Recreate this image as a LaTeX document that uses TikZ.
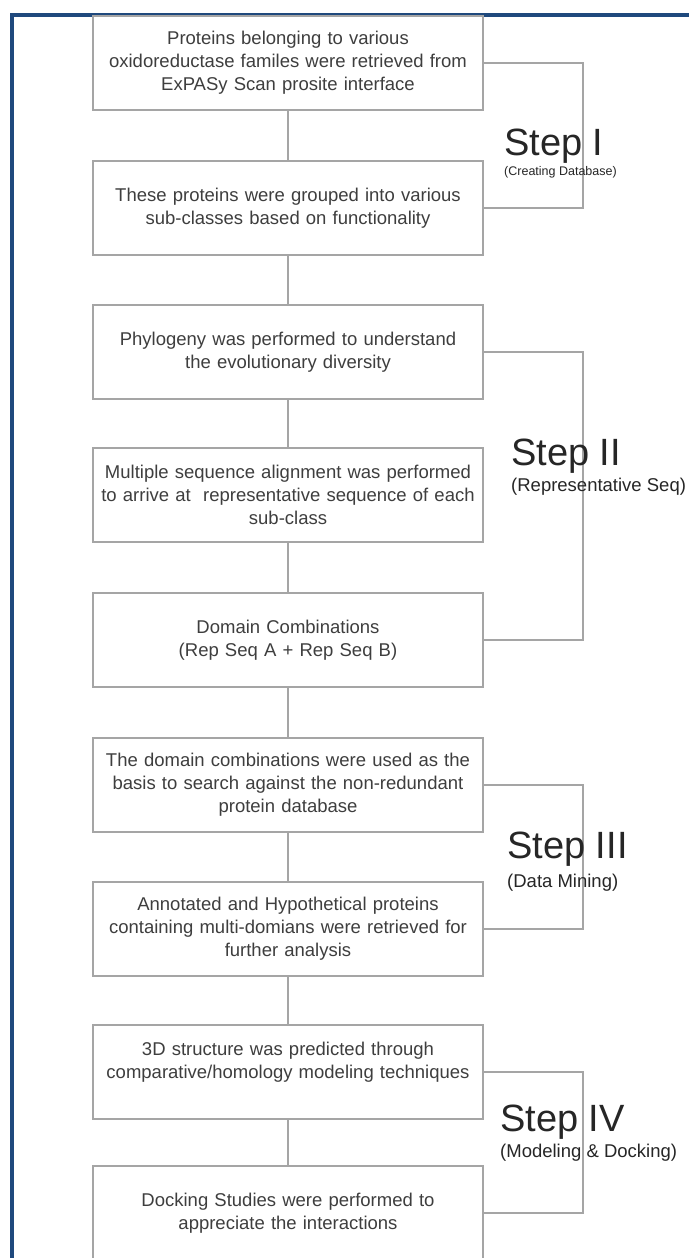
\documentclass[tikz,border=0pt]{standalone}
\usepackage{fontspec}
\setmainfont{Liberation Sans}
\usetikzlibrary{positioning}
\definecolor{frameBlue}{RGB}{31, 73, 125}
\definecolor{boxGray}{RGB}{165, 165, 165}
\definecolor{textDark}{RGB}{62, 62, 62}
\definecolor{stepDark}{RGB}{38, 38, 38}
\tikzset{
    stage/.style={
        rectangle,
        draw=boxGray,
        line width=2pt,
        fill=white,
        minimum width=390pt,
        minimum height=94pt,
        text width=380pt,
        align=center,
        inner sep=0pt,
        text=textDark,
        font={\fontsize{18.5}{23}\selectfont}
    },
    link/.style={
        draw=boxGray,
        line width=2pt
    },
    bracket/.style={
        draw=boxGray,
        line width=2pt
    },
    stepTitle/.style={
        anchor=base west,
        inner sep=0pt,
        text=stepDark,
        font={\fontsize{38}{40}\selectfont}
    },
    stepSub/.style={
        anchor=west,
        inner sep=0pt,
        text=stepDark,
        font={\fontsize{18.5}{22}\selectfont}
    }
}

\begin{document}
\begin{tikzpicture}[x=1pt, y=-1pt]
    \fill[white] (0,0) rectangle (688,1258);
    \useasboundingbox (0,0) rectangle (688,1258);

    % Frame
    \draw[frameBlue, line width=4pt] (12,1270) -- (12,14.5) -- (700,14.5);

    % Flowchart
    \node[stage] (b1) at (288, 63) {Proteins belonging to various\\oxidoreductase familes were retrieved from\\ExPASy Scan prosite interface};
    \node[stage] (b2) at (288, 208) {These proteins were grouped into various\\sub-classes based on functionality};
    \node[stage] (b3) at (288, 352) {Phylogeny was performed to understand\\the evolutionary diversity};
    \node[stage] (b4) at (288, 495) {Multiple sequence alignment was performed\\to arrive at~ representative sequence of each\\sub-class};
    \node[stage] (b5) at (288, 640) {Domain Combinations\\(Rep Seq A + Rep Seq B)};
    \node[stage] (b6) at (288, 785) {The domain combinations were used as the\\basis to search against the non-redundant\\protein database};
    \node[stage] (b7) at (288, 929) {Annotated and Hypothetical proteins\\containing multi-domians were retrieved for\\further analysis};
    \node[stage] (b8) at (288, 1072) {3D structure was predicted through\\comparative/homology modeling techniques\\\mbox{}};
    \node[stage] (b9) at (288, 1213) {Docking Studies were performed to\\appreciate the interactions};

    % Edges
    \draw[link] (b1) -- (b2);
    \draw[link] (b2) -- (b3);
    \draw[link] (b3) -- (b4);
    \draw[link] (b4) -- (b5);
    \draw[link] (b5) -- (b6);
    \draw[link] (b6) -- (b7);
    \draw[link] (b7) -- (b8);
    \draw[link] (b8) -- (b9);

    % Brackets
    \draw[bracket] (b1.east) -- ++(99,0) |- (b2.east);
    \draw[bracket] (b3.east) -- ++(99,0) |- (b5.east);
    \draw[bracket] (b6.east) -- ++(99,0) |- (b7.east);
    \draw[bracket] (b8.east) -- ++(99,0) |- (b9.east);

    % Step labels
    \node[stepTitle] (s1) at (504, 155) {Step I};
    \node[stepSub, font={\fontsize{12.5}{14}\selectfont}] (s1sub) at (504, 172) {(Creating Database)};
    \node[stepTitle] (s2) at (511, 465) {Step II};
    \node[stepSub] (s2sub) at (511, 487) {(Representative Seq)};
    \node[stepTitle] (s3) at (507, 858) {Step III};
    \node[stepSub] (s3sub) at (507, 883) {(Data Mining)};
    \node[stepTitle] (s4) at (500, 1131) {Step IV};
    \node[stepSub] (s4sub) at (500, 1153) {(Modeling \& Docking)};
\end{tikzpicture}
\end{document}
